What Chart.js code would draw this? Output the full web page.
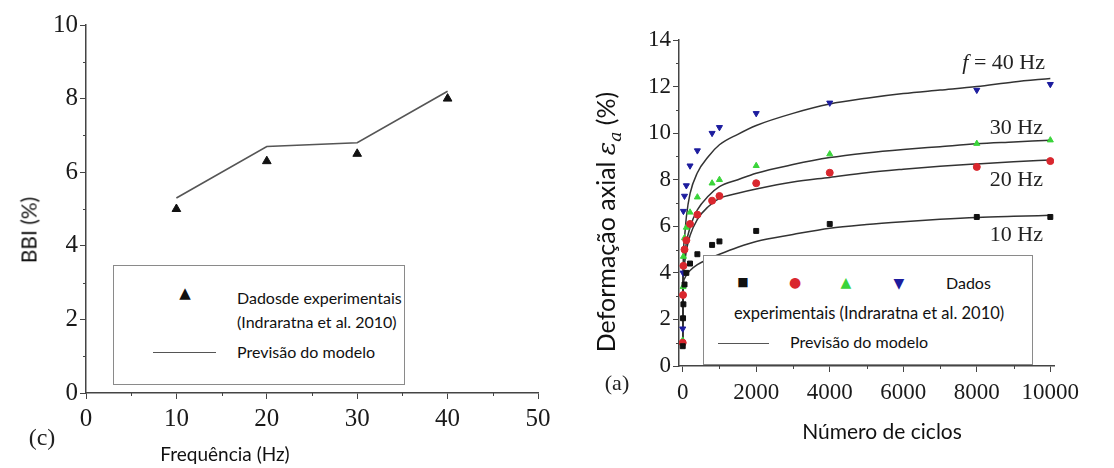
<!DOCTYPE html>
<html>
<head>
<meta charset="utf-8">
<script src="https://cdn.jsdelivr.net/npm/chart.js@4"></script>
<style>
  body { margin: 0; background: #fff; }
  #page { position: relative; width: 1114px; height: 468px; overflow: hidden; background: #fff; }
  .box { position: absolute; }
  .txt { position: absolute; white-space: nowrap; color: #111; font-family: Lato, "Open Sans", sans-serif; }
  .serif { font-family: "Liberation Serif", "DejaVu Serif", serif; color: #222; }
  .rot { transform: translate(-50%, -50%) rotate(-90deg); }
  .mid { transform: translate(-50%, -50%); }
  .legend { position: absolute; background: #fff; border: 1px solid #8a8a8a; box-sizing: border-box; }
  .sym { position: absolute; transform: translate(-50%, -50%); font-family: "DejaVu Sans", sans-serif; line-height: 1; }
  .ln { position: absolute; height: 0; border-top: 1.5px solid #555; }
</style>
</head>
<body>
<div id="page">
  <div class="box" style="left:0;top:0;width:560px;height:468px"><canvas id="bbiChart" width="560" height="468"></canvas></div>
  <div class="box" style="left:560px;top:0;width:554px;height:468px"><canvas id="strainChart" width="554" height="468"></canvas></div>

  <!-- left chart texts -->
  <div class="txt rot" style="left:28px;top:230px;font-size:21px">BBI (%)</div>
  <div class="txt mid" style="left:225px;top:453px;font-size:19px">Frequência (Hz)</div>
  <div class="txt serif mid" style="left:42px;top:437px;font-size:24px">(c)</div>
  <div class="legend" style="left:113px;top:265px;width:292px;height:120px">
    <div class="sym" style="left:71px;top:27px;font-size:15px;color:#111">▲</div>
    <div class="txt" style="left:123px;top:22px;font-size:16px">Dadosde experimentais</div>
    <div class="txt" style="left:123px;top:46px;font-size:16px">(Indraratna et al. 2010)</div>
    <div class="ln" style="left:39px;top:86px;width:63px"></div>
    <div class="txt" style="left:123px;top:76px;font-size:16px">Previsão do modelo</div>
  </div>

  <!-- right chart texts -->
  <div class="txt rot" style="left:607px;top:222px;font-size:25px">Deformação axial <i style="font-family:'DejaVu Serif',serif">ε<sub style="font-size:17px">a</sub></i> (%)</div>
  <div class="txt mid" style="left:882px;top:430px;font-size:21px">Número de ciclos</div>
  <div class="txt serif mid" style="left:617px;top:383px;font-size:22px">(a)</div>
  <div class="txt serif" style="right:69px;top:49px;font-size:22px"><i>f</i> = 40 Hz</div>
  <div class="txt serif" style="right:71px;top:114px;font-size:22px">30 Hz</div>
  <div class="txt serif" style="right:71px;top:166px;font-size:22px">20 Hz</div>
  <div class="txt serif" style="right:71px;top:221px;font-size:22px">10 Hz</div>
  <div class="legend" style="left:703px;top:255px;width:330px;height:110px">
    <div class="sym" style="left:39px;top:26px;font-size:12px;color:#111">■</div>
    <div class="sym" style="left:91px;top:26px;font-size:14px;color:#d9272e">●</div>
    <div class="sym" style="left:142px;top:26px;font-size:14px;color:#3ad43a">▲</div>
    <div class="sym" style="left:195px;top:27px;font-size:14px;color:#1c1c9e">▼</div>
    <div class="txt" style="left:242px;top:17px;font-size:16px">Dados</div>
    <div class="txt" style="left:30px;top:47px;font-size:16.5px">experimentais (Indraratna et al. 2010)</div>
    <div class="ln" style="left:14px;top:87px;width:51px"></div>
    <div class="txt" style="left:86px;top:76px;font-size:16px">Previsão do modelo</div>
  </div>
</div>

<script>
// ---- BBI vs frequency ----
const frequencies = [10, 20, 30, 40];
const bbiExperimental = [5.0, 6.3, 6.5, 8.0];
const bbiModel = [5.3, 6.7, 6.8, 8.2];
const freqTicks = [0, 10, 20, 30, 40, 50];
const bbiTicks = [0, 2, 4, 6, 8, 10];
const freqMinor = [5, 15, 25, 35, 45];
const bbiMinor = [1, 3, 5, 7, 9];

// ---- axial strain vs number of cycles ----
const expCycles = [1, 10, 20, 50, 100, 200, 400, 800, 1000, 2000, 4000, 8000, 10000];
const exp10Hz = [0.85, 2.05, 2.65, 3.5, 4.0, 4.4, 4.8, 5.2, 5.35, 5.8, 6.1, 6.4, 6.4];
const exp20Hz = [1.0, 3.05, 4.3, 5.0, 5.4, 6.1, 6.5, 7.1, 7.3, 7.85, 8.3, 8.55, 8.8];
const exp30Hz = [1.1, 3.4, 4.7, 5.5, 5.95, 6.6, 7.25, 7.85, 8.0, 8.6, 9.1, 9.55, 9.7];
const exp40Hz = [1.6, 4.0, 6.65, 7.3, 7.75, 8.6, 9.25, 10.0, 10.25, 10.85, 11.3, 11.85, 12.1];

const modelCycles = [1, 10, 50, 100, 200, 400, 700, 1000, 1500, 2000, 3000, 4000, 5000, 6000, 7000, 8000, 9000, 10000];
const model10Hz = [1.0, 3.2, 3.75, 3.9, 4.1, 4.35, 4.6, 4.8, 5.1, 5.35, 5.65, 5.92, 6.08, 6.2, 6.3, 6.38, 6.43, 6.47];
const model20Hz = [1.0, 3.4, 4.4, 4.95, 5.6, 6.3, 6.85, 7.2, 7.42, 7.6, 7.9, 8.1, 8.3, 8.45, 8.58, 8.68, 8.77, 8.85];
const model30Hz = [1.0, 3.6, 4.7, 5.3, 5.95, 6.7, 7.3, 7.7, 8.0, 8.28, 8.65, 8.95, 9.15, 9.3, 9.42, 9.54, 9.62, 9.7];
const model40Hz = [1.0, 4.0, 5.5, 6.4, 7.4, 8.3, 9.0, 9.5, 9.95, 10.33, 10.85, 11.25, 11.5, 11.7, 11.85, 12.0, 12.2, 12.35];

const cycleTicks = [0, 2000, 4000, 6000, 8000, 10000];
const strainTicks = [0, 2, 4, 6, 8, 10, 12, 14];
const cycleMinor = [1000, 3000, 5000, 7000, 9000];
const strainMinor = [1, 3, 5, 7, 9, 11, 13];

const axisColor = '#444';

const toPoints = (xs, ys) => xs.map((x, i) => ({ x: x, y: ys[i] }));

// small ticks between the labelled ones
const minorTicks = {
    id: 'minorTicks',
    afterDraw(chart, args, opts) {
        const ctx = chart.ctx;
        const sx = chart.scales.x;
        const sy = chart.scales.y;
        ctx.save();
        ctx.strokeStyle = axisColor;
        ctx.lineWidth = 1;
        opts.x.forEach(v => {
            const px = Math.round(sx.getPixelForValue(v)) + 0.5;
            ctx.beginPath();
            ctx.moveTo(px, sx.top);
            ctx.lineTo(px, sx.top + 3);
            ctx.stroke();
        });
        opts.y.forEach(v => {
            const py = Math.round(sy.getPixelForValue(v)) + 0.5;
            ctx.beginPath();
            ctx.moveTo(sy.right - 3, py);
            ctx.lineTo(sy.right, py);
            ctx.stroke();
        });
        ctx.restore();
    }
};

const axis = (min, max, values, fontSize, pad, fit) => ({
    type: 'linear',
    min: min,
    max: max,
    afterBuildTicks: s => { s.ticks = values.map(v => ({ value: v })); },
    afterFit: fit,
    grid: { drawOnChartArea: false, tickLength: 6, tickColor: axisColor, tickWidth: 1 },
    border: { display: true, color: axisColor, width: 1.5 },
    ticks: {
        autoSkip: false,
        maxRotation: 0,
        padding: pad,
        color: '#1a1a1a',
        font: { family: 'Liberation Serif', size: fontSize },
        callback: v => String(v)
    }
});

new Chart(document.getElementById('bbiChart'), {
    type: 'scatter',
    data: {
        datasets: [{
            label: 'Dados experimentais',
            data: toPoints(frequencies, bbiExperimental),
            pointStyle: 'triangle',
            pointRadius: 5,
            backgroundColor: '#111',
            borderColor: '#111',
            borderWidth: 1
        }, {
            label: 'Previsão do modelo',
            data: toPoints(frequencies, bbiModel),
            showLine: true,
            pointRadius: 0,
            borderColor: '#555',
            borderWidth: 1.6
        }]
    },
    options: {
        responsive: false,
        animation: false,
        layout: { padding: { left: 26, right: 22, top: 25, bottom: 35 } },
        plugins: {
            legend: { display: false },
            tooltip: { enabled: false },
            minorTicks: { x: freqMinor, y: bbiMinor }
        },
        scales: {
            x: axis(0, 50, freqTicks, 25, 5, s => { s.height = 40; }),
            y: axis(0, 10, bbiTicks, 25, 2, s => { s.width = 60; })
        }
    },
    plugins: [minorTicks]
});

const expSet = (label, ys, style, color, rotation) => ({
    label: label,
    data: toPoints(expCycles, ys),
    pointStyle: style,
    rotation: rotation || 0,
    pointRadius: 3.5,
    backgroundColor: color,
    borderColor: color,
    borderWidth: 1
});

const modelSet = (label, ys) => ({
    label: label,
    data: toPoints(modelCycles, ys),
    showLine: true,
    pointRadius: 0,
    borderColor: '#333',
    borderWidth: 1.5,
    cubicInterpolationMode: 'monotone'
});

new Chart(document.getElementById('strainChart'), {
    type: 'scatter',
    data: {
        datasets: [
            expSet('10 Hz', exp10Hz, 'rect', '#111'),
            expSet('20 Hz', exp20Hz, 'circle', '#d9272e'),
            expSet('30 Hz', exp30Hz, 'triangle', '#3ad43a'),
            expSet('40 Hz', exp40Hz, 'triangle', '#1c1c9e', 180),
            modelSet('Modelo 10 Hz', model10Hz),
            modelSet('Modelo 20 Hz', model20Hz),
            modelSet('Modelo 30 Hz', model30Hz),
            modelSet('Modelo 40 Hz', model40Hz)
        ]
    },
    options: {
        responsive: false,
        animation: false,
        layout: { padding: { left: 59, right: 60, top: 40, bottom: 62 } },
        plugins: {
            legend: { display: false },
            tooltip: { enabled: false },
            minorTicks: { x: cycleMinor, y: strainMinor }
        },
        scales: {
            x: axis(-100, 10100, cycleTicks, 23, 7, s => { s.height = 40; }),
            y: axis(0, 14, strainTicks, 23, 2, s => { s.width = 60; })
        }
    },
    plugins: [minorTicks]
});
</script>
</body>
</html>
